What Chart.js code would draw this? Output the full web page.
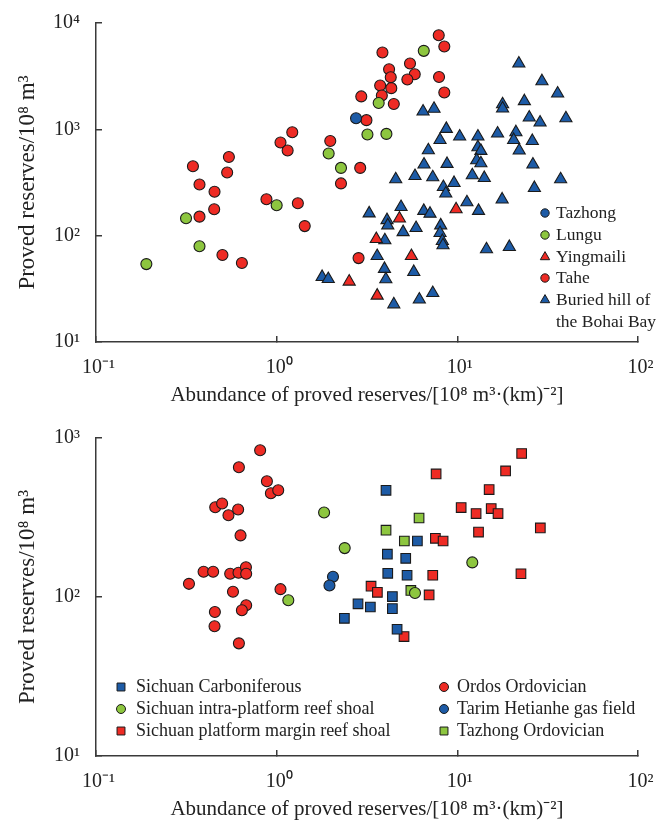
<!DOCTYPE html>
<html>
<head>
<meta charset="utf-8">
<script src="https://cdn.jsdelivr.net/npm/chart.js@4.4.0/dist/chart.umd.min.js"></script>
<style>
  body { margin: 0; background: #fff; }
  #wrap { position: relative; width: 669px; height: 833px; }
  canvas { position: absolute; left: 0; }
</style>
</head>
<body>
<div id="wrap">
  <canvas id="topChart" width="669" height="420" style="top:0"></canvas>
  <canvas id="bottomChart" width="669" height="413" style="top:420px"></canvas>
</div>
<script>
// ---- data, [abundance, reserves] ----
const tazhong = [[2.75, 1270]];
const lungu = [[0.19, 54], [0.315, 146], [0.374, 79.5], [1.0, 193], [1.94, 592], [2.27, 434],
  [3.18, 893], [4.05, 906], [3.67, 1770], [6.52, 5470]];
const yingmaili = [[9.84, 177], [4.78, 145], [3.56, 93], [5.57, 64.4], [2.52, 37], [3.6, 27.3]];
const tahe = [[0.344, 450], [0.374, 303], [0.453, 259], [0.544, 550], [0.532, 393], [0.451, 177],
  [0.374, 151], [0.501, 65.8], [0.642, 55.4], [0.878, 220], [1.31, 202], [1.43, 123], [1.05, 751],
  [1.15, 632], [1.22, 939], [1.98, 778], [2.27, 310], [2.9, 434], [2.84, 61.5], [7.89, 7670],
  [8.47, 6010], [3.85, 5280], [5.47, 4160], [4.19, 3670], [4.28, 3090], [5.81, 3300], [5.29, 2940],
  [7.92, 3110], [3.74, 2580], [4.31, 2440], [8.47, 2220], [2.94, 2040], [3.82, 2080], [4.45, 1730],
  [3.14, 1220]];
const buriedHill = [[21.9, 4160], [29.4, 2835], [35.9, 2170], [17.8, 1720], [17.8, 1570], [23.5, 1840],
  [6.46, 1470], [7.43, 1560], [25.0, 1290], [28.7, 1160], [39.9, 1270], [8.69, 1010], [8.02, 795],
  [10.3, 855], [13.0, 855], [16.7, 913], [21.1, 940], [20.5, 795], [26.0, 778], [6.91, 636], [13.0, 679],
  [13.5, 627], [22.0, 632], [12.8, 512], [13.5, 480], [6.54, 467], [8.77, 473], [26.2, 467], [4.56, 339],
  [5.83, 364], [7.31, 354], [12.1, 370], [14.1, 349], [37.3, 339], [8.37, 287], [9.59, 313], [26.7, 281],
  [8.63, 249], [11.3, 206], [13.1, 171], [17.7, 219], [3.25, 162], [4.88, 186], [6.52, 171], [7.06, 161],
  [4.08, 140], [4.12, 125], [5.01, 108], [5.91, 118], [8.09, 125], [8.02, 106], [8.26, 89.2], [8.33, 81.2],
  [3.97, 90.5], [3.6, 64.4], [3.95, 48.7], [4.02, 38.9], [5.74, 45.6], [14.5, 74.5], [19.4, 78.3],
  [1.785, 40.9], [1.93, 39.1], [4.45, 22.6], [6.16, 25.1], [7.31, 28.9]];

const ordos = [[0.81, 838], [0.618, 655], [0.883, 535], [0.929, 449], [1.02, 469], [0.457, 367],
  [0.499, 387], [0.612, 355], [0.541, 327], [0.631, 244], [0.394, 144], [0.445, 144], [0.553, 140],
  [0.615, 142], [0.676, 154], [0.678, 140], [0.327, 121], [0.573, 108], [1.05, 112], [0.678, 88.7],
  [0.642, 82.5], [0.455, 80.5], [0.453, 65.4], [0.618, 51.1]];
const intraPlatform = [[1.83, 340], [2.38, 203], [1.16, 95.3], [12.1, 165], [5.83, 106]];
const hetianhe = [[2.05, 134], [1.96, 118]];
const carboniferous = [[4.03, 469], [6.01, 225], [4.1, 186], [5.18, 175], [4.12, 141], [5.27, 137],
  [4.37, 100.6], [4.37, 84.5], [2.82, 90.6], [3.3, 86.5], [2.37, 73.4], [4.64, 62.7]];
const tazhongOrd = [[6.14, 314], [4.03, 263], [5.09, 225], [5.53, 110]];
const platformMargin = [[22.7, 799], [18.5, 621], [7.63, 594], [15.0, 474], [10.5, 365], [12.7, 335],
  [15.4, 360], [16.8, 335], [28.8, 272], [13.1, 256], [7.56, 234], [8.34, 225], [7.31, 137], [22.5, 140],
  [3.33, 117], [3.61, 107], [6.98, 103], [5.07, 56.4]];

const xTicks = [0.1, 1, 10, 100];
const yTicksTop = [10, 100, 1000, 10000];
const yTicksBottom = [10, 100, 1000];

const BLUE = '#1d5ba6', RED = '#ee2b24', GREEN = '#8dc63f';
const FONT = '"Liberation Serif", "Times New Roman", serif';
const AXIS = '#3a3a3a';

const SUP = { '-': '\u207B', '0': '\u2070', '1': '\u00B9', '2': '\u00B2', '3': '\u00B3', '4': '\u2074' };
function powLabel(v) {
  const e = String(Math.round(Math.log10(v)));
  return '10' + e.split('').map(c => SUP[c]).join('');
}

function toPts(arr) {
  return arr.map(([x, y]) => ({ x: x, y: y }));
}

function series(label, arr, style, color, r) {
  return {
    label: label,
    data: toPts(arr),
    pointStyle: style,
    pointRadius: r,
    pointHoverRadius: r,
    backgroundColor: color,
    borderColor: '#1a1a1a',
    pointBorderWidth: 1.1,
    showLine: false
  };
}

function drawMarker(ctx, style, x, y, r, fill) {
  ctx.beginPath();
  if (style === 'circle') {
    ctx.arc(x, y, r, 0, Math.PI * 2);
  } else if (style === 'triangle') {
    for (let i = 0; i < 3; i++) {
      const a = -Math.PI / 2 + i * 2 * Math.PI / 3;
      const px = x + r * Math.cos(a), py = y + r * Math.sin(a);
      if (i === 0) ctx.moveTo(px, py); else ctx.lineTo(px, py);
    }
    ctx.closePath();
  } else {
    const s = r * Math.SQRT1_2;
    ctx.rect(x - s, y - s, 2 * s, 2 * s);
  }
  ctx.fillStyle = fill;
  ctx.fill();
  ctx.lineWidth = 1;
  ctx.strokeStyle = '#1a1a1a';
  ctx.stroke();
}

// legend drawn inside the plot, positions given per chart
const markerLegend = {
  id: 'markerLegend',
  afterDraw(chart, args, opts) {
    const ctx = chart.ctx;
    ctx.save();
    ctx.font = opts.font;
    ctx.textBaseline = 'middle';
    opts.items.forEach(it => {
      const ds = chart.data.datasets[it.ds];
      drawMarker(ctx, ds.pointStyle, it.x, it.y, it.r, ds.backgroundColor);
      ctx.fillStyle = '#222';
      const lines = it.lines || [ds.label];
      lines.forEach((t, i) => ctx.fillText(t, it.tx, it.y + i * opts.lineGap));
    });
    ctx.restore();
  }
};

function makeOptions(yTicks, yMax, pad, xHeight, xTitlePad, legend) {
  return {
    responsive: false,
    animation: false,
    layout: { padding: pad },
    plugins: {
      legend: { display: false },
      tooltip: { enabled: false },
      markerLegend: legend
    },
    scales: {
      x: {
        type: 'logarithmic',
        min: 0.1,
        max: 100,
        afterBuildTicks: s => { s.ticks = xTicks.map(v => ({ value: v })); },
        afterFit: s => {
          s.height = xHeight;
          s.paddingLeft = 0; s.paddingRight = 0;
        },
        border: { display: true, color: AXIS, width: 1.5 },
        grid: { drawOnChartArea: false, drawTicks: true, tickLength: -6, tickColor: AXIS, lineWidth: 1.5 },
        ticks: {
          padding: 20,
          maxRotation: 0,
          autoSkip: false,
          color: '#222',
          font: { family: FONT, size: 20 },
          callback: v => '\u2005' + powLabel(v)
        },
        title: {
          display: true,
          text: 'Abundance of proved reserves/[10\u2078 m\u00B3\u00B7(km)\u207B\u00B2]',
          color: '#222',
          font: { family: FONT, size: 21 },
          padding: { top: 0, bottom: xTitlePad }
        }
      },
      y: {
        type: 'logarithmic',
        min: 10,
        max: yMax,
        afterBuildTicks: s => { s.ticks = yTicks.map(v => ({ value: v })); },
        afterFit: s => {
          s.width = 96;
          s.paddingTop = 0; s.paddingBottom = 0;
        },
        border: { display: true, color: AXIS, width: 1.5 },
        grid: { drawOnChartArea: false, drawTicks: true, tickLength: -6, tickColor: AXIS, lineWidth: 1.5 },
        ticks: {
          padding: 22,
          autoSkip: false,
          color: '#222',
          font: { family: FONT, size: 20 },
          callback: v => powLabel(v)
        },
        title: {
          display: true,
          text: 'Proved reserves/10\u2078 m\u00B3',
          color: '#222',
          font: { family: FONT, size: 23 },
          padding: { top: 14, bottom: 0 }
        }
      }
    }
  };
}

new Chart(document.getElementById('topChart'), {
  type: 'scatter',
  data: {
    datasets: [
      series('Tazhong', tazhong, 'circle', BLUE, 5.5),
      series('Lungu', lungu, 'circle', GREEN, 5.5),
      series('Yingmaili', yingmaili, 'triangle', RED, 7),
      series('Tahe', tahe, 'circle', RED, 5.5),
      series('Buried hill of the Bohai Bay', buriedHill, 'triangle', BLUE, 7)
    ]
  },
  options: makeOptions(yTicksTop, 10000, { top: 23, right: 31, bottom: 0, left: 0 }, 78, 12, {
    font: '17.5px ' + FONT,
    lineGap: 22,
    items: [
      { ds: 0, x: 545, tx: 556, y: 213, r: 4.2 },
      { ds: 1, x: 545, tx: 556, y: 235, r: 4.2 },
      { ds: 2, x: 545, tx: 556, y: 257, r: 5.4 },
      { ds: 3, x: 545, tx: 556, y: 278, r: 4.2 },
      { ds: 4, x: 545, tx: 556, y: 300, r: 5.4, lines: ['Buried hill of', 'the Bohai Bay'] }
    ]
  }),
  plugins: [markerLegend]
});

new Chart(document.getElementById('bottomChart'), {
  type: 'scatter',
  data: {
    datasets: [
      series('Sichuan Carboniferous', carboniferous, 'rect', BLUE, 6.8),
      series('Sichuan intra-platform reef shoal', intraPlatform, 'circle', GREEN, 5.5),
      series('Sichuan platform margin reef shoal', platformMargin, 'rect', RED, 6.8),
      series('Ordos Ordovician', ordos, 'circle', RED, 5.5),
      series('Tarim Hetianhe gas field', hetianhe, 'circle', BLUE, 5.5),
      series('Tazhong Ordovician', tazhongOrd, 'rect', GREEN, 6.8)
    ]
  },
  options: makeOptions(yTicksBottom, 1000, { top: 18, right: 31, bottom: 0, left: 0 }, 77, 11, {
    font: '18px ' + FONT,
    lineGap: 22,
    items: [
      { ds: 0, x: 121, tx: 136, y: 267, r: 5.6 },
      { ds: 1, x: 121, tx: 136, y: 289, r: 4.5 },
      { ds: 2, x: 121, tx: 136, y: 311, r: 5.6 },
      { ds: 3, x: 444, tx: 457, y: 267, r: 4.5 },
      { ds: 4, x: 444, tx: 457, y: 289, r: 4.5 },
      { ds: 5, x: 444, tx: 457, y: 311, r: 5.6 }
    ]
  }),
  plugins: [markerLegend]
});
</script>
</body>
</html>
